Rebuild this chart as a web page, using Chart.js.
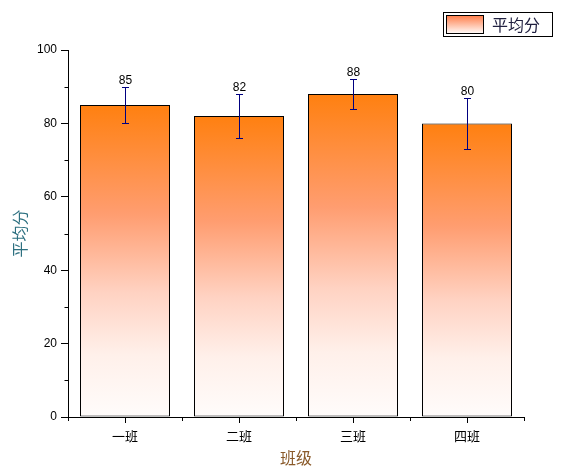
<!DOCTYPE html>
<html>
<head>
<meta charset="utf-8">
<script src="https://cdn.jsdelivr.net/npm/chart.js@4/dist/chart.umd.min.js"></script>
<style>
html, body { margin: 0; padding: 0; background: #fff; }
</style>
</head>
<body>
<canvas id="graph" width="584" height="475"></canvas>
<script>
// data
var classes = ['一班', '二班', '三班', '四班'];
var scores = [85, 82, 88, 80];
var errs = [5, 6, 4, 7];
var seriesName = '平均分';
var xTitle = '班级';
var yTitle = '平均分';
var yTicksMinor = [10, 30, 50, 70, 90];

Chart.defaults.font.family = '"Liberation Sans", "Noto Sans CJK SC", sans-serif';
Chart.defaults.color = '#000';

function barFill(c) {
  var chart = c.chart;
  if (!chart.chartArea || c.type !== 'data') return '#ff8010';
  var ys = chart.scales.y;
  var top = ys.getPixelForValue(c.raw), bot = ys.getPixelForValue(0);
  var g = chart.ctx.createLinearGradient(0, top, 0, bot);
  g.addColorStop(0, '#ff8010');
  g.addColorStop(0.35, '#ff9d70');
  g.addColorStop(0.6, '#ffd2c2');
  g.addColorStop(0.8, '#fff0ea');
  g.addColorStop(1, '#fffcfb');
  return g;
}

// minor ticks on both axes
var minorTicks = {
  id: 'minorTicks',
  afterDraw: function(chart) {
    var ctx = chart.ctx, xs = chart.scales.x, ys = chart.scales.y;
    ctx.save();
    ctx.strokeStyle = '#000';
    ctx.lineWidth = 1;
    ctx.beginPath();
    var ax = Math.round(xs.left) + 0.5;
    yTicksMinor.forEach(function(v) {
      var py = Math.round(ys.getPixelForValue(v)) + 0.5;
      ctx.moveTo(ax - 4, py);
      ctx.lineTo(ax, py);
    });
    var half = (xs.getPixelForValue(1) - xs.getPixelForValue(0)) / 2;
    var ay = Math.round(ys.bottom);
    for (var i = 0; i <= classes.length; i++) {
      var px = i < classes.length ? xs.getPixelForValue(i) - half : xs.getPixelForValue(i - 1) + half;
      px = Math.round(px) + 0.5;
      ctx.moveTo(px, ay);
      ctx.lineTo(px, ay + 4);
    }
    ctx.stroke();
    ctx.restore();
  }
};

// error bars + value labels
var errorBars = {
  id: 'errorBars',
  afterDatasetsDraw: function(chart) {
    var ctx = chart.ctx, ys = chart.scales.y;
    var meta = chart.getDatasetMeta(0);
    ctx.save();
    ctx.strokeStyle = '#000080';
    ctx.lineWidth = 1;
    ctx.font = '12px "Liberation Sans", sans-serif';
    ctx.textAlign = 'center';
    ctx.textBaseline = 'bottom';
    meta.data.forEach(function(bar, i) {
      var x = Math.round(bar.x) + 0.5;
      var t = Math.round(ys.getPixelForValue(scores[i] + errs[i])) + 0.5;
      var b = Math.round(ys.getPixelForValue(scores[i] - errs[i])) + 0.5;
      ctx.beginPath();
      ctx.moveTo(x, t); ctx.lineTo(x, b);
      ctx.moveTo(x - 3.5, t); ctx.lineTo(x + 3.5, t);
      ctx.moveTo(x - 3.5, b); ctx.lineTo(x + 3.5, b);
      ctx.stroke();
      ctx.fillStyle = '#000';
      ctx.fillText(String(scores[i]), x, t - 1);
    });
    ctx.restore();
  }
};

// framed legend in the top right corner
var boxLegend = {
  id: 'boxLegend',
  afterDraw: function(chart) {
    var ctx = chart.ctx;
    ctx.save();
    ctx.strokeStyle = '#000';
    ctx.lineWidth = 1;
    ctx.strokeRect(443.5, 12.5, 109, 24);
    var g = ctx.createLinearGradient(0, 15, 0, 33);
    g.addColorStop(0, '#ff7a45');
    g.addColorStop(1, '#fff8f5');
    ctx.fillStyle = g;
    ctx.fillRect(446, 15, 37, 18);
    ctx.strokeRect(446.5, 15.5, 37, 18);
    ctx.fillStyle = '#202040';
    ctx.font = '16px "Noto Sans CJK SC", sans-serif';
    ctx.textBaseline = 'middle';
    ctx.textAlign = 'left';
    ctx.fillText(seriesName, 492, 25);
    ctx.restore();
  }
};

new Chart(document.getElementById('graph'), {
  type: 'bar',
  data: {
    labels: classes,
    datasets: [{
      label: seriesName,
      data: scores,
      backgroundColor: barFill,
      borderColor: '#000',
      borderWidth: 1,
      borderSkipped: false,
      barPercentage: 90 / 114,
      categoryPercentage: 1.0
    }]
  },
  options: {
    responsive: false,
    animation: false,
    events: [],
    layout: { padding: { top: 50, right: 60, bottom: 0, left: 0 } },
    plugins: {
      legend: { display: false },
      tooltip: { enabled: false }
    },
    scales: {
      x: {
        grid: { drawOnChartArea: false, offset: false, tickLength: 6, color: '#000' },
        border: { color: '#000', width: 1 },
        ticks: { font: { size: 13 }, padding: 7 },
        title: { display: true, text: xTitle, color: '#8a5a2a', font: { size: 16 }, padding: { top: 4, bottom: 6 } },
        afterFit: function(s) { s.height = 58; }
      },
      y: {
        min: 0,
        max: 100,
        grid: { drawOnChartArea: false, tickLength: 7, color: '#000' },
        border: { color: '#000', width: 1 },
        ticks: { stepSize: 20, font: { size: 12 }, padding: 4 },
        title: { display: true, text: yTitle, color: '#2d7080', font: { size: 16 }, padding: { top: 12, bottom: 4 } },
        afterFit: function(s) { s.width = 68; }
      }
    }
  },
  plugins: [minorTicks, errorBars, boxLegend]
});
</script>
</body>
</html>
